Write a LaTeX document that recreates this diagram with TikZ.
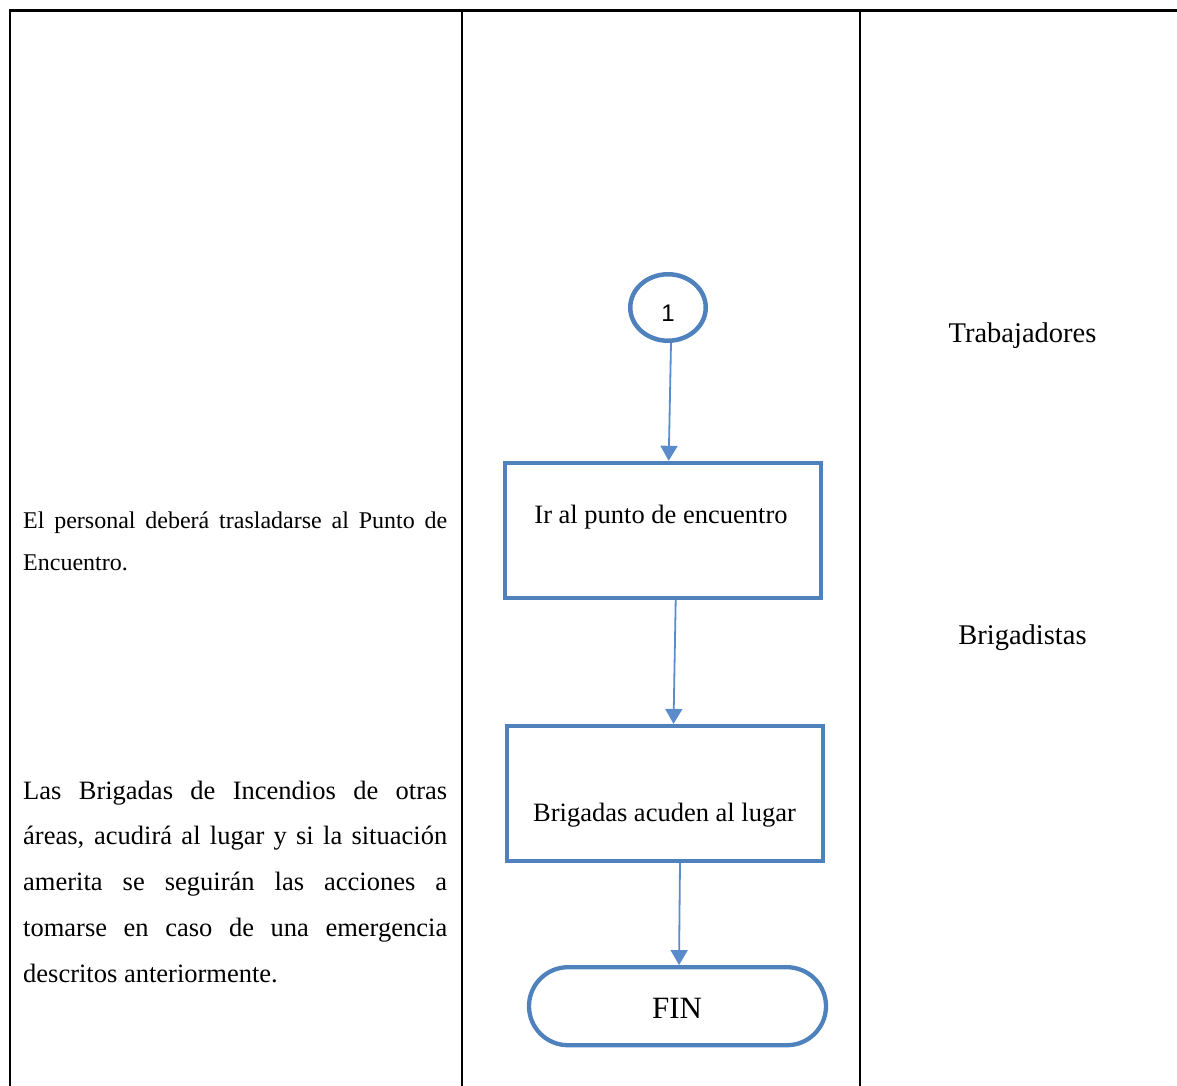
\documentclass[tikz,border=0pt]{standalone}
\usepackage{fontspec}
\setmainfont{Liberation Serif}
\newfontfamily\digitfont{Liberation Sans}
\usetikzlibrary{
    arrows.meta,
    shapes.geometric
}
\definecolor{flowblue}{HTML}{4F81BD}
\definecolor{linkblue}{HTML}{5A8CCB}
\hyphenpenalty=10000
\exhyphenpenalty=10000
\tolerance=10000
\tikzset{
    lane line/.style={
        draw=black,
        line width=2.3pt
    },
    proc box/.style={
        draw=flowblue,
        line width=4pt,
        minimum width=316pt,
        minimum height=135pt,
        inner sep=0pt
    },
    box text/.style={
        anchor=base,
        inner sep=0pt,
        font=\fontsize{26.5}{30}\selectfont
    },
    connector/.style={
        draw=flowblue,
        line width=4.5pt,
        ellipse,
        minimum width=75.5pt,
        minimum height=66.5pt,
        inner sep=0pt,
        text height=28pt,
        font=\digitfont\fontsize{24}{28}\selectfont
    },
    terminal/.style={
        draw=flowblue,
        line width=4.3pt,
        rounded corners=39pt,
        minimum width=297pt,
        minimum height=78pt,
        inner sep=0pt
    },
    link/.style={
        -{Triangle[length=15pt,width=17pt]},
        draw=linkblue,
        line width=1.8pt
    },
    lane label/.style={
        anchor=base,
        inner sep=0pt,
        font=\fontsize{28.5}{31}\selectfont
    },
    side text/.style={
        anchor=base west,
        inner sep=0pt,
        text width=424pt,
        align=justify
    }
}

\begin{document}
\begin{tikzpicture}[x=1pt, y=-1pt]

    \useasboundingbox (0,0) rectangle (1177,1086);

    % Table frame: description | flow | responsible.
    \draw[lane line] (9.7,1086) -- (9.7,10.5) -- (1177,10.5);
    \draw[lane line] (462.3,10.5) -- (462.3,1086);
    \draw[lane line] (859.7,10.5) -- (859.7,1086);

    % -------------------------------------------------------------------------
    % Description column.
    % -------------------------------------------------------------------------
    \node[side text, font=\fontsize{24}{41.5}\selectfont] (nota1) at (23,528.5)
        {El personal deberá trasladarse al Punto de Encuentro.};

    \node[side text, font=\fontsize{26.5}{45.8}\selectfont] (nota2) at (23,799)
        {Las Brigadas de Incendios de otras áreas, acudirá al lugar y si la
        situación amerita se seguirán las acciones a tomarse en caso de una
        emergencia descritos anteriormente.};

    % -------------------------------------------------------------------------
    % Flow column.
    % -------------------------------------------------------------------------
    \node[connector] (uno) at (668,307.5) {1};

    \node[proc box] (ir) at (662.7,530.3) {};
    \node[box text] (irtxt) at (661,523) {Ir al punto de encuentro};

    \node[proc box] (acuden) at (664.5,793.4) {};
    \node[box text] (acudentxt) at (664.5,821.5) {Brigadas acuden al lugar};

    \node[terminal] (fin) at (677.5,1006.2) {};
    \node[box text, font=\fontsize{31}{34}\selectfont] (fintxt) at (677,1018) {FIN};

    \draw[link] ([xshift=3pt]uno.south) -- ([xshift=6pt]ir.north);
    \draw[link] ([xshift=13pt]ir.south) -- ([xshift=9pt]acuden.north);
    \draw[link] ([xshift=15.5pt]acuden.south) -- ([xshift=1.5pt]fin.north);

    % -------------------------------------------------------------------------
    % Responsible column.
    % -------------------------------------------------------------------------
    \node[lane label] (trab) at (1022.5,342) {Trabajadores};
    \node[lane label] (brig) at (1022.5,644.5) {Brigadistas};

\end{tikzpicture}
\end{document}
